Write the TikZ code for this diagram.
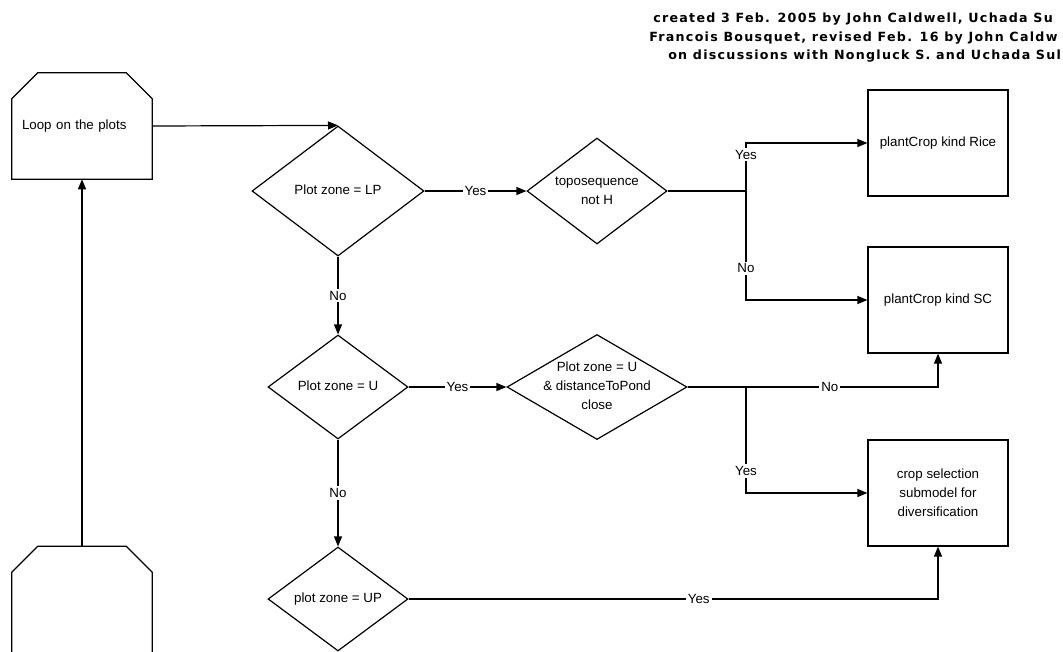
\documentclass[tikz,border=0pt]{standalone}
\usepackage{fontspec}
\setmainfont{Liberation Sans}
\newfontfamily\notefont[LetterSpace=10]{DejaVu Sans}
\usetikzlibrary{arrows.meta,shapes.geometric}
% text of a decision, kept out of the diamond's size
\newcommand{\dtext}[1]{\smash{\raisebox{-2.5pt}{\makebox[0pt]{\begin{tabular}{@{}c@{}}#1\end{tabular}}}}}
\tikzset{
  every node/.style={font=\fontsize{10}{14.25}\selectfont, text=black},
  note/.style={font=\notefont\bfseries\fontsize{9.5}{11}\selectfont, inner sep=0pt, anchor=base west},
  loopbox/.style={rectangle, minimum width=105pt, minimum height=79.5pt, text width=90pt, align=left, inner xsep=7.5pt, inner ysep=0pt},
  action/.style={rectangle, draw, line width=0.9pt, minimum width=105pt, minimum height=79.5pt, align=center, inner sep=2pt},
  decision/.style={diamond, draw, line width=0.9pt, inner sep=0pt},
  arr/.style={-{Triangle[length=7.5pt,width=6pt]}, line width=0.9pt},
  lnk/.style={line width=0.9pt},
  lbl/.style={fill=white, inner sep=1.5pt},
}
\begin{document}
\begin{tikzpicture}[x=0.75pt,y=-0.75pt]
\useasboundingbox (0,0) rectangle (1063,651);
% ---------------- note
\node[note] (note1) at (653,22) {created 3 Feb. 2005 by John Caldwell, Uchada Su};
\node[note] (note2) at (649,41) {Francois Bousquet, revised Feb. 16 by John Caldw};
\node[note] (note3) at (668,59) {on discussions with Nongluck S. and Uchada Sul};

% ---------------- loop
\node[loopbox] (loop) at (82,126) {Loop on the plots};
\node[loopbox] (next) at (82,599.5) {};
\draw[lnk] (loop.south west) -- ([yshift=-19.5pt]loop.north west) -- ([xshift=19.5pt]loop.north west)
  -- ([xshift=-19.5pt]loop.north east) -- ([yshift=-19.5pt]loop.north east) -- (loop.south east) -- cycle;
\draw[lnk] (next.south west) -- ([yshift=-19.5pt]next.north west) -- ([xshift=19.5pt]next.north west)
  -- ([xshift=-19.5pt]next.north east) -- ([yshift=-19.5pt]next.north east) -- (next.south east);

% ---------------- decisions
\node[decision, minimum width=129pt, minimum height=97.5pt] (lp) at (338,191) {\dtext{Plot zone = LP}};
\node[decision, minimum width=105pt, minimum height=79.5pt] (topo) at (597,191) {\dtext{toposequence\\not H}};
\node[decision, minimum width=105pt, minimum height=78pt] (u) at (338,387) {\dtext{Plot zone = U}};
\node[decision, minimum width=135pt, minimum height=78.75pt] (close) at (597,387) {\dtext{Plot zone = U\\\& distanceToPond\\close}};
\node[decision, minimum width=105pt, minimum height=78pt] (up) at (338,599) {\dtext{plot zone = UP}};

% ---------------- actions
\node[action] (rice) at (938,143) {plantCrop kind Rice};
\node[action] (sc) at (938,300) {plantCrop kind SC};
\node[action] (div) at (938,493) {crop selection\\submodel for\\diversification};
\coordinate (j1) at (746,191);
\coordinate (j2) at (746,387);

% ---------------- connectors
\draw[arr] (next.north) -- (loop.south);
\draw[arr] (loop.east) -- (lp.north);
\draw[arr] (lp.east) -- node[lbl]{Yes} (topo.west);
\draw[lnk] (topo.east) -- (j1);
\draw[arr] (j1) |- node[lbl, pos=0.38]{Yes} (rice.west);
\draw[arr] (j1) |- node[lbl, pos=0.355]{No} (sc.west);
\draw[arr] (lp.south) -- node[lbl]{No} (u.north);
\draw[arr] (u.east) -- node[lbl]{Yes} (close.west);
\draw[arr] (close.east) -| node[lbl, pos=0.284]{No} (sc.south);
\draw[arr] (j2) |- node[lbl, pos=0.396]{Yes} (div.west);
\draw[arr] (u.south) -- node[lbl]{No} (up.north);
\draw[arr] (up.east) -| node[lbl, pos=0.274]{Yes} (div.south);
\end{tikzpicture}
\end{document}
